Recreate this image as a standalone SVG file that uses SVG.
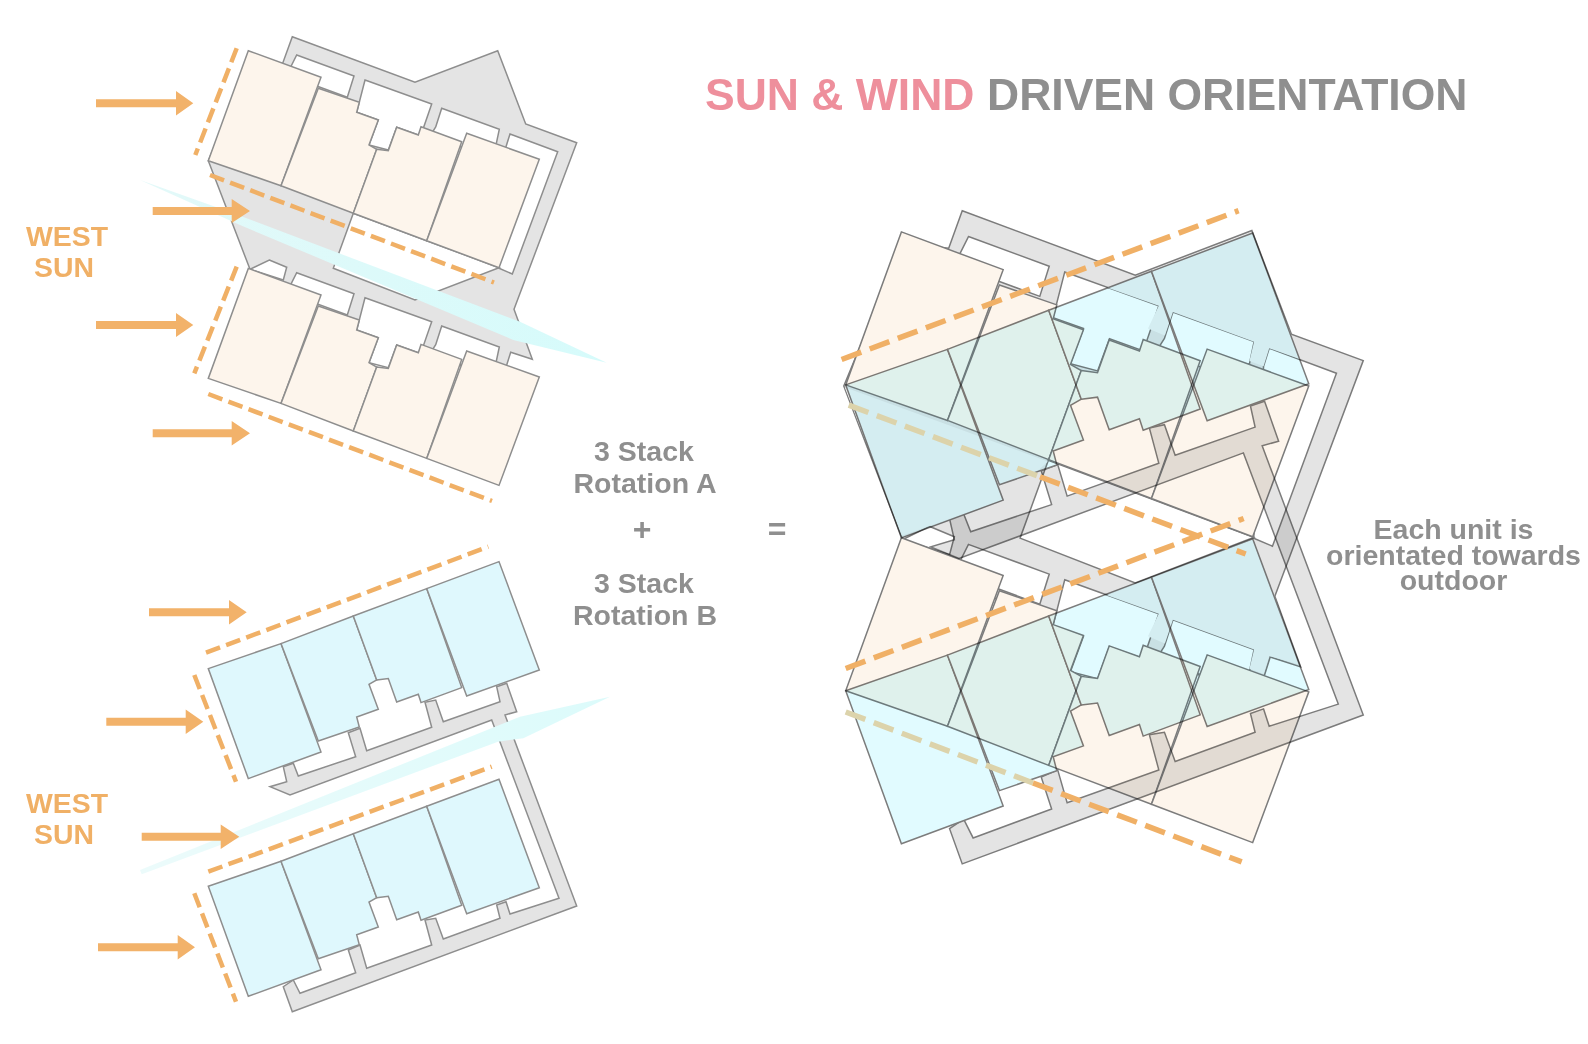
<svg xmlns="http://www.w3.org/2000/svg" xmlns:xlink="http://www.w3.org/1999/xlink" width="1588" height="1044" viewBox="0 0 1588 1044">
<style>
polygon{vector-effect:non-scaling-stroke;stroke-linejoin:miter}
.g{fill:#e4e4e4;stroke:var(--s,#8e8e8e);stroke-width:1.5}
.w{fill:#fff;stroke:var(--s,#8e8e8e);stroke-width:1.5}
.o{fill:#fdf5ec;stroke:var(--s,#8e8e8e);stroke-width:1.5}
.b{fill:#dff8fd;stroke:var(--s,#8e8e8e);stroke-width:1.5}
.bc{fill:#e1fbff}
.dk{--s:#7c7c7c}
.li{fill:#f1f1f1;stroke:none}
.d{fill:none;stroke:#f0b066;stroke-width:4.5;stroke-dasharray:15 6.5}
.D{fill:none;stroke:#f0b066;stroke-width:5.5;stroke-dasharray:21 9}
.Dt{stroke:#dcd3ab}
.ar{fill:#f2b26a}
text{font-family:"Liberation Sans",Arial,sans-serif;font-weight:bold;text-anchor:middle;fill:#8f8f8f}
.sun{fill:#f0b066;font-size:28.4px}
.lab{font-size:28.500px}
</style>
<defs>
<g id="U">
<polygon points="248.3,50.7 321,77.3 281,185.7 208.3,160.7"/>
<polygon points="318.3,88.3 359.3,102.3 356.7,112.3 378.3,120 369,145 376.7,149.3 353.3,213.3 281,185.7"/>
<polygon points="376.7,149.3 388.3,150.7 396.7,127.3 418.3,135 421,126.7 461.7,141.7 426.7,240.7 353.3,213.3"/>
<polygon points="466.7,133.3 539.3,159.3 499,267.7 426.7,240.7"/>
</g>
<g id="C">
<polygon points="296.7,55 354,76 347.3,97.3 286.7,75"/>
<polygon points="365,80 431.7,104 423.3,128.3 418.3,135 396.7,127.3 388.3,150 369,145 378.3,120 356.7,112.3"/>
<polygon points="441.7,108.3 499.3,129.3 496,145 461,147 430,136 435.700,127"/>
</g>
<g id="GA">
<polygon class="g" points="292.3,36.7 415,82.3 497.7,50.7 525.7,124 576.7,142.7 514,309.3 532.3,359.3 510.7,352.3 506.7,365 500,380 260,290 250,269.3 208.3,160.7 250,60 282.7,63.3"/>
<g class="w">
<use xlink:href="#C"/>
<use xlink:href="#C" transform="translate(0,217.7)"/>
<polygon points="510,134 557.7,151.7 512.3,274 499,268.3 506,146.7"/>
<polygon points="353.3,213.3 333.3,268.3 415,300 499,267.7 426.7,240.7"/>
<polygon points="269.3,260 286.7,267.3 283.3,280 250,269.3"/>
</g>
</g>
<polygon id="GB" class="g" points="506.7,683.3 516.7,711.7 505,715 576.7,906 292.3,1011.7 283.3,986.7 293.3,980 300,993.3 355.7,972.7 348.3,950 360,945 366.7,968.3 431.7,945 425,920 435.7,918.3 443.3,939 500,918.3 496.7,905 506,901.7 510,914 559,898.3 491.7,720 290,795 270,786.7 286.7,781.7 283.3,766.7 293.3,763.3 298.3,776 355.7,756.7 348.3,732.7 360,728.3 366.7,750.7 431.7,727.3 425,702.3 435.7,700 443.3,721.7 500,701.7 496.7,686.7"/>
<linearGradient id="wa" x1="0" x2="1" y1="0" y2="0"><stop offset="0" stop-color="#e3f9f9"/><stop offset="1" stop-color="#d6fbfb"/></linearGradient>
<linearGradient id="wb" x1="0" x2="1" y1="0" y2="0"><stop offset="0" stop-color="#ecfbfb"/><stop offset="1" stop-color="#dcfbfb"/></linearGradient>
</defs>

<g id="stack-a">
<use xlink:href="#GA"/>
<g class="o">
<use xlink:href="#U"/>
<use xlink:href="#U" transform="translate(0,217.7)"/>
</g>
</g>

<g id="stack-b">
<use xlink:href="#GB"/>
<g class="b">
<use xlink:href="#U" transform="matrix(1,0,0,-1,0,829.3)"/>
<use xlink:href="#U" transform="matrix(1,0,0,-1,0,1047)"/>
</g>
</g>

<g id="wind">
<polygon points="140,180 230,212 520,321.7 606.7,362.7 513.3,340 240,225" fill="url(#wa)"/>
<polygon points="140,870 520,716.7 610,696.7 523.3,738.3 498,741.7 141.7,874.3" fill="url(#wb)"/>
</g>

<g id="composite">
<g class="dk" transform="matrix(1.41,0,0,1.414,550.1,158.8)">
<use xlink:href="#GA"/>
<polygon class="li" points="416,83 497,52 525.7,124.500 532,141.800 510,134 506,146.700 496,143 499.3,129.3 441.7,108.3 436,125 424,120 431.7,104 395,91"/>
<polygon class="li" points="209,161.500 353,214 345,221.500 318.3,231.600 321.2,241.300 249.500,266.500"/>
<polygon class="li" points="416,300.700 499,269 514,309.300 530.500,357.500 510,351.700 506,364.400 496,360.700 499.3,347 441.7,326 436,342.700 424,337.700 431.7,321.700 395,308.700"/>
</g>
<g class="o dk">
<use xlink:href="#U" transform="matrix(1.399,.0093,.0025,1.3943,553.9,158.9)"/>
<use xlink:href="#U" transform="matrix(1.399,.0093,.0025,1.3943,553.9,464.7)"/>
</g>
<g style="mix-blend-mode:multiply">
<g class="dk"><use xlink:href="#GB" transform="matrix(1.41,0,0,1.409,550.1,-561.6)"/></g>
<g class="b bc dk">
<use xlink:href="#U" transform="matrix(1.399,-.0093,.0025,-1.3943,553.9,610.9)"/>
<use xlink:href="#U" transform="matrix(1.399,-.0093,.0025,-1.3943,553.9,916.7)"/>
</g>
</g>
</g>

<g id="dashes">
<path class="d" d="M236.7,48.3L195.3,155M210,175L494,282.500M236.7,266.7L194.3,373.3M208.3,394L492,501M206,652.7L488.3,546.7M194.3,675L236,781.7M208.3,871.7L491.7,766.7M194.3,893.3L236,1001.7"/>
<path class="D" d="M841.6,359.500L1238.6,210.7M845.7,668.500L1243.7,518.500"/>
<path class="D Dt" d="M848.7,405.100L1040,476.800"/>
<path class="D" d="M1040,476.800L1245.7,554"/>
<path class="D Dt" d="M845.7,712L1033,783"/>
<path class="D" d="M1033,783L1241.7,861.900"/>
</g>

<g id="arrows">
<path class="ar" d="M96,99.300H176V91L193.3,103.3L176,115.500V107.300H96Z"/>
<path class="ar" d="M152.700,207H231.700V199L250,211L231.700,223V215H152.700Z"/>
<path class="ar" d="M96,321H176V313L193.300,325L176,337V329H96Z"/>
<path class="ar" d="M152.700,429.300H231.700V421L250,433.300L231.700,445.500V437.300H152.700Z"/>
<path class="ar" d="M149,608.300H229V600L246.700,612.300L229,624.500V616.300H149Z"/>
<path class="ar" d="M106.300,717.700H185.700V709.500L203.300,721.700L185.700,734V725.700H106.300Z"/>
<path class="ar" d="M141.700,832.700H220.700V824.500L239.300,836.700L220.700,849V840.700H141.700Z"/>
<path class="ar" d="M98,943.300H177.700V935L195,947.300L177.700,959.500V951.300H98Z"/>
</g>

<g id="labels">
<text x="705" y="110" font-size="44.500" style="text-anchor:start;fill:#ee8f9c">SUN &amp; WIND</text>
<text x="987" y="110" font-size="44.500" style="text-anchor:start">DRIVEN ORIENTATION</text>
<text class="sun" x="67" y="246">WEST</text>
<text class="sun" x="64" y="277">SUN</text>
<text class="sun" x="67" y="813">WEST</text>
<text class="sun" x="64" y="844">SUN</text>
<text class="lab" x="644" y="461">3 Stack</text>
<text class="lab" x="645" y="493">Rotation A</text>
<text class="lab" x="642" y="540" style="font-size:32px">+</text>
<text class="lab" x="644" y="593">3 Stack</text>
<text class="lab" x="645" y="625">Rotation B</text>
<text class="lab" x="777" y="540" style="font-size:32px">=</text>
<text class="lab" x="1453.500" y="539">Each unit is</text>
<text class="lab" x="1453.500" y="565">orientated towards</text>
<text class="lab" x="1453.500" y="590">outdoor</text>
</g>
</svg>
